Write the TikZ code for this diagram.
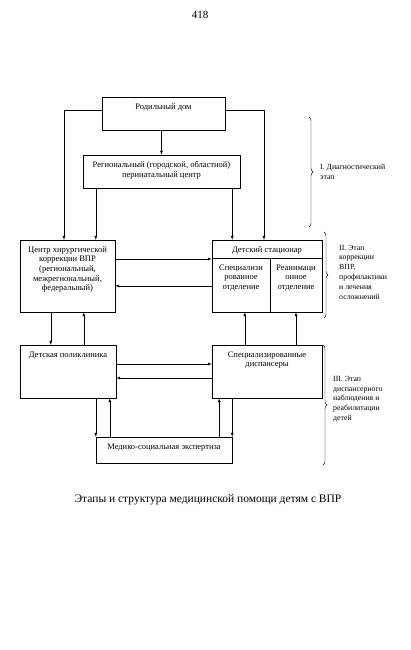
\documentclass[tikz,border=0pt]{standalone}
\usepackage{fontspec}
\setmainfont{Liberation Serif}
\usetikzlibrary{positioning,calc,arrows,decorations.pathreplacing}

\newcommand{\cellbox}[3]{\parbox[c][#2][t]{#1}{\centering\vspace*{6.5pt}#3}}

\tikzset{
  blk/.style={draw, inner sep=0pt, font=\fontsize{8.5}{9.6}\selectfont},
  arr/.style={-latex},
  stage/.style={anchor=west, align=left, inner sep=0pt, font=\fontsize{7.8}{9.8}\selectfont},
  stagebrace/.style={decorate, decoration={brace, amplitude=4pt}},
}

\begin{document}
\begin{tikzpicture}[x=1pt,y=-1pt]
		\useasboundingbox (0,0) rectangle (410,650);
		\node[font=\fontsize{11}{13}\selectfont] (pagenum) at (200,15) {418};
		% boxes
		\node[blk] (rod) at (163.5,113.5) {\cellbox{123pt}{33pt}{Родильный дом}};
		\node[blk] (perin) at (161.5,171.5) {\cellbox{157pt}{33pt}{Региональный (городской, областной)\\перинатальный центр}};
		\node[blk] (hir) at (67.5,276) {\cellbox{95pt}{72pt}{Центр хирургической\\коррекции ВПР\\(региональный,\\межрегиональный,\\федеральный)}};
		\node[blk] (stac) at (267,276) {\cellbox{110pt}{72pt}{Детский стационар}};
		\node[blk] (spec) at (241,285) {\cellbox{58pt}{54pt}{Специализи\\рованное\\отделение}};
		\node[blk] (reanim) at (296,285) {\cellbox{52pt}{54pt}{Реанимаци\\онное\\отделение}};
		\node[blk] (polik) at (68,371.5) {\cellbox{96pt}{53pt}{Детская поликлиника}};
		\node[blk] (disp) at (267,371.5) {\cellbox{110pt}{53pt}{Специализированные\\диспансеры}};
		\node[blk] (mse) at (164,450) {\cellbox{136pt}{26pt}{Медико-социальная экспертиза}};
		% connectors
		\draw[arr] ([yshift=3.5pt]rod.west) -| ([xshift=-3.5pt]hir.north);
		\draw[arr] ([yshift=3.5pt]rod.east) -| ([xshift=-3pt]stac.north);
		\draw[arr] (rod.south -| perin.north) -- (perin.north);
		\draw[arr] ([xshift=13pt]perin.south west) -- ([xshift=13pt]perin.south west |- hir.north);
		\draw[arr] ([xshift=-8pt]perin.south east) -- ([xshift=-8pt]perin.south east |- stac.north);
		\draw[arr] ([yshift=17pt]hir.east) -- ([yshift=17pt]hir.east -| stac.west);
		\draw[arr] ([yshift=-10pt]hir.east -| stac.west) -- ([yshift=-10pt]hir.east);
		\draw[arr] ([xshift=31pt]hir.south west) -- ([xshift=31pt]hir.south west |- polik.north);
		\draw[arr] ([xshift=64pt]hir.south west |- polik.north) -- ([xshift=64pt]hir.south west);
		\draw[arr] ([xshift=33pt]disp.north west) -- ([xshift=33pt]disp.north west |- stac.south);
		\draw[arr] (disp.north -| reanim.south) -- (reanim.south);
		\draw[arr] ([yshift=7.5pt]polik.east) -- ([yshift=7.5pt]polik.east -| disp.west);
		\draw[arr] ([yshift=-6.5pt]polik.east -| disp.west) -- ([yshift=-6.5pt]polik.east);
		\draw[arr] (polik.south -| mse.north west) -- (mse.north west);
		\draw[arr] ([xshift=14pt]mse.north west) -- ([xshift=14pt]mse.north west |- polik.south);
		\draw[arr] ([xshift=-13pt]mse.north east) -- ([xshift=-13pt]mse.north east |- disp.south);
		\draw[arr] (disp.south -| mse.north east) -- (mse.north east);
		% stages
		\draw[stagebrace] (309,117) -- (309,227);
		\node[stage] (diag) at (320,172) {I. Диагностический\\этап};
		\draw[stagebrace] (324,232) -- (324,318);
		\node[stage] (korr) at (339,272) {II. Этап\\коррекции\\ВПР,\\профилактики\\и лечения\\осложнений};
		\draw[stagebrace] (323,345) -- (323,465);
		\node[stage] (reab) at (333,399) {III. Этап\\диспансерного\\наблюдения и\\реабилитации\\детей};
		\node[font=\fontsize{11.5}{13}\selectfont] (caption) at (208,500) {Этапы и структура медицинской помощи детям с ВПР};
	\end{tikzpicture}
\end{document}
